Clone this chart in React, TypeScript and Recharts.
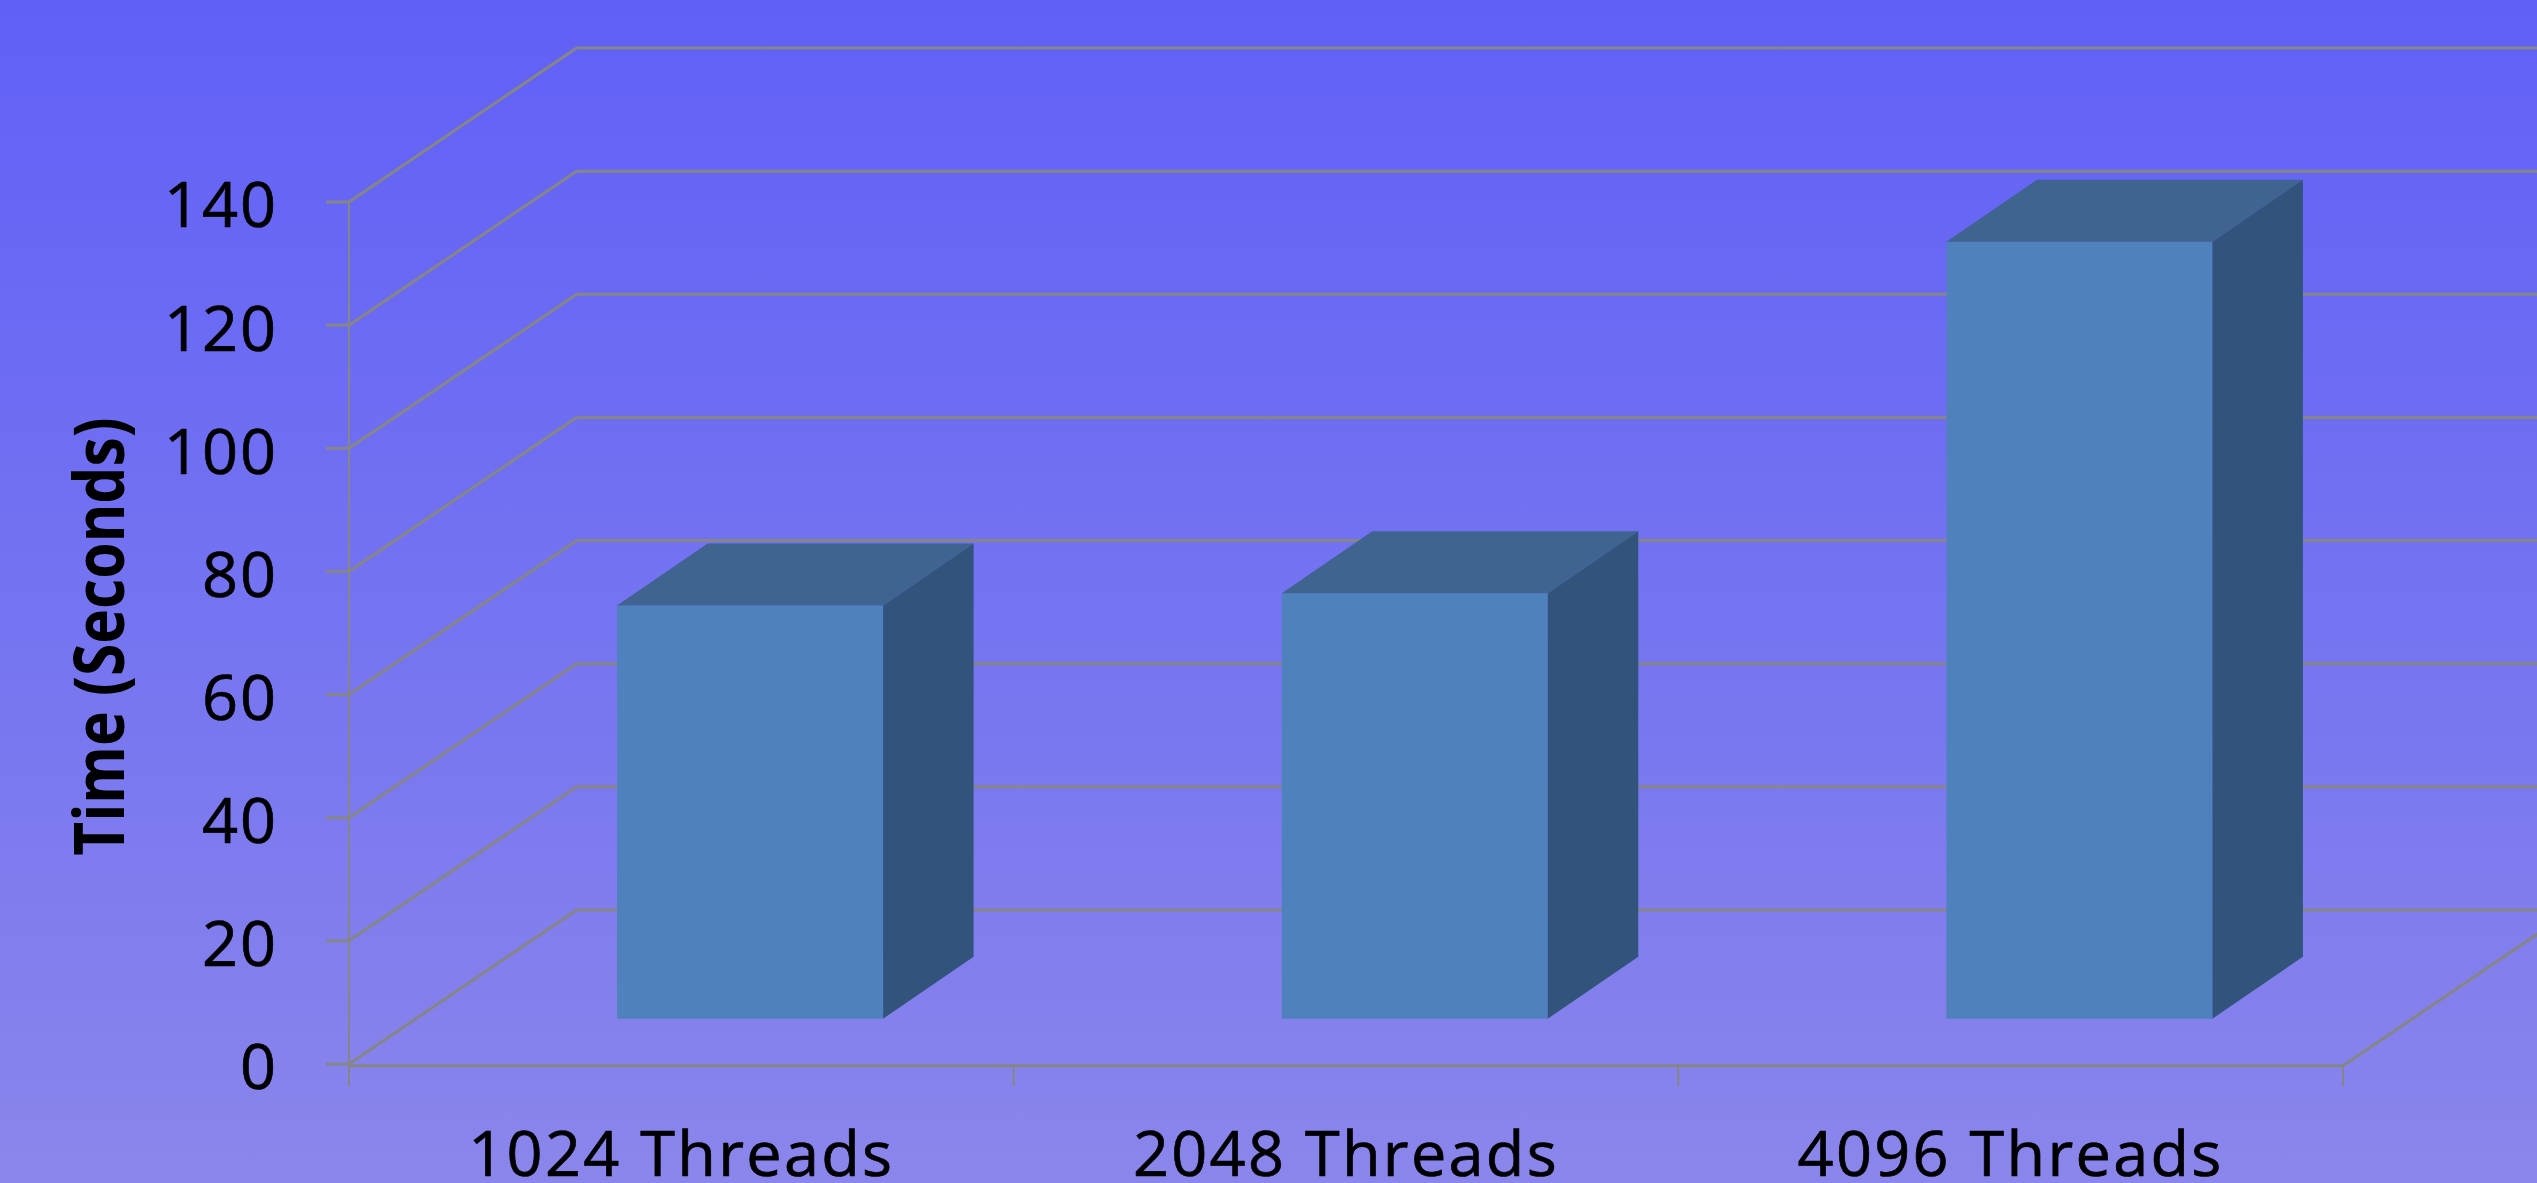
import { Bar, BarChart, CartesianGrid, XAxis, YAxis } from 'recharts'

const categories = ['1024 Threads', '2048 Threads', '4096 Threads']
const seconds = [67.1, 69.1, 126.2]
const yTicks = [0, 20, 40, 60, 80, 100, 120, 140]

const CHART_W = 2537
const CHART_H = 1183
const PLOT = { left: 349, right: 2343, top: 202, bottom: 1064 }
const BAND = (PLOT.right - PLOT.left) / categories.length

// oblique offset from the front of the box to the back wall
const DEPTH = { x: 227.6, y: -154 }
const BOX_DEPTH = { x: 90.5, y: -62 }
// bars stand about halfway into the floor
const BOX_SHIFT = { x: 69.1, y: -45.3 }

const GRID = '#868686'
const FONT = '"Open Sans", sans-serif'

const data = categories.map((name, i) => ({ name, seconds: seconds[i] }))

const WallLine = ({ x1, y1 }: any) => (
	<polyline
		points={`${x1},${y1} ${x1 + DEPTH.x},${y1 + DEPTH.y} ${CHART_W},${y1 + DEPTH.y}`}
		fill="none"
		stroke={GRID}
		strokeWidth={3}
	/>
)

const Box = ({ x, y, width, height }: any) => {
	const left = x + BOX_SHIFT.x
	const right = left + width
	const top = y + BOX_SHIFT.y
	const bottom = top + height
	const dx = BOX_DEPTH.x
	const dy = BOX_DEPTH.y
	return (
		<g>
			<polygon points={`${left},${top} ${right},${top} ${right},${bottom} ${left},${bottom}`} fill="#4F81BD" />
			<polygon points={`${left},${top} ${left + dx},${top + dy} ${right + dx},${top + dy} ${right},${top}`} fill="#3E648F" />
			<polygon points={`${right},${top} ${right + dx},${top + dy} ${right + dx},${bottom + dy} ${right},${bottom}`} fill="#32547C" />
		</g>
	)
}

const CategoryTick = ({ x, payload, index }: any) => {
	const edge = x + BAND / 2
	const last = index === categories.length - 1
	return (
		<g>
			{index === 0 && <line x1={x - BAND / 2} y1={PLOT.bottom} x2={x - BAND / 2} y2={1086} stroke={GRID} strokeWidth={2} />}
			<line x1={edge} y1={PLOT.bottom} x2={edge} y2={1086} stroke={GRID} strokeWidth={2} />
			{last && <line x1={edge} y1={1065.7} x2={edge + DEPTH.x} y2={1065.7 + DEPTH.y} stroke={GRID} strokeWidth={3} />}
			<text
				x={x}
				y={1176}
				textAnchor="middle"
				fontFamily={FONT}
				fontSize={63}
				letterSpacing={2.3}
				fill="#000"
				stroke="#000"
				strokeWidth={0.7}
			>
				{payload.value}
			</text>
		</g>
	)
}

// narrower than the regular bold face, so squeeze it along its length
const AxisTitle = () => (
	<text
		transform="translate(124,636.5) rotate(-90) scale(0.84,1)"
		textAnchor="middle"
		fontFamily={FONT}
		fontWeight={700}
		fontSize={70}
		fill="#000"
	>
		Time (Seconds)
	</text>
)

export default function App() {
	return (
		<div
			style={{
				position: 'absolute',
				left: 0,
				top: 0,
				width: CHART_W,
				height: CHART_H,
				background: 'linear-gradient(180deg, #6060F7 0%, #7473F1 50%, #8A86EB 100%)',
			}}
		>
			<BarChart
				width={CHART_W}
				height={CHART_H}
				data={data}
				margin={{ top: PLOT.top, right: CHART_W - PLOT.right, bottom: 0, left: 0 }}
			>
				<CartesianGrid vertical={false} horizontal={WallLine} />
				<XAxis
					dataKey="name"
					height={CHART_H - PLOT.bottom}
					interval={0}
					axisLine={{ stroke: GRID, strokeWidth: 3, transform: 'translate(0,1.7)' }}
					tickLine={false}
					tick={CategoryTick}
				/>
				<YAxis
					width={PLOT.left}
					domain={[0, 140]}
					ticks={yTicks}
					interval={0}
					tickSize={23}
					tickMargin={48}
					axisLine={{ stroke: GRID, strokeWidth: 2 }}
					tickLine={{ stroke: GRID, strokeWidth: 3 }}
					tick={{ fill: '#000', stroke: '#000', strokeWidth: 0.7, fontFamily: FONT, fontSize: 63, letterSpacing: 2, dy: 3 }}
					label={<AxisTitle />}
				/>
				<Bar dataKey="seconds" barSize={266} shape={Box} isAnimationActive={false} />
			</BarChart>
		</div>
	)
}
